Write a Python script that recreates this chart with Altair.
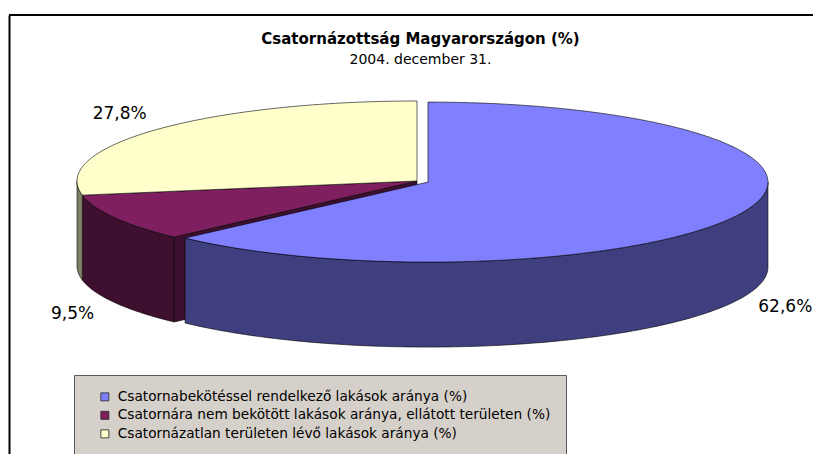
import math
import numpy as np
import pandas as pd
import altair as alt

# ---- data ----
categories = [
    "Csatornabekötéssel rendelkező lakások aránya (%)",
    "Csatornára nem bekötött lakások aránya, ellátott területen (%)",
    "Csatornázatlan területen lévő lakások aránya (%)",
]
values = [62.6, 9.5, 27.8]
explode = [0.035, 0.0, 0.0]

# ---- styles ----
top_colors = ["#8080ff", "#7f1f5f", "#ffffcc"]
wall_colors = ["#3f3f7f", "#3f0f2f", "#808066"]

# ---- layout (pixels on the page) ----
VIEW_X0, VIEW_Y0 = 9, 15
W, H = 804, 439
CX_PX, CY_PX = 417, 181
RX_PX, RY_PX = 340, 80
DEPTH = 85 / RY_PX  # wall height in y units
LABEL_RX, LABEL_RY = 1.14, 1.30

xdom = [-(CX_PX - VIEW_X0) / RX_PX, (VIEW_X0 + W - CX_PX) / RX_PX]
ydom = [-(VIEW_Y0 + H - CY_PX) / RY_PX, (CY_PX - VIEW_Y0) / RY_PX]


def rim(a):
    r = math.radians(a)
    return math.sin(r), math.cos(r)


def arc(a1, a2):
    n = max(2, int(math.ceil(abs(a2 - a1))) + 1)
    return np.linspace(a1, a2, n)


total = sum(values)
top_rows, wall_rows, face_rows, label_rows = [], [], [], []
start = 0.0
bounds = []
for k, v in enumerate(values):
    a1 = start
    a2 = start + v / total * 360.0
    bounds.append((a1, a2))
    start = a2

for k, (cat, val) in enumerate(zip(categories, values)):
    a1, a2 = bounds[k]
    mid = (a1 + a2) / 2
    su, sv = rim(mid)
    du, dv = explode[k] * su, explode[k] * sv

    # top face
    pts = [(0.0, 0.0)] + [rim(a) for a in arc(a1, a2)] + [(0.0, 0.0)]
    for i, (u, w) in enumerate(pts):
        top_rows.append({"poly": f"top{k}", "cat": cat, "i": i, "u": u + du, "v": w + dv})

    # front wall (visible part between 90 and 270 degrees)
    lo, hi = max(a1, 90.0), min(a2, 270.0)
    if hi > lo:
        upper = [rim(a) for a in arc(lo, hi)]
        lower = [(u, w - DEPTH) for (u, w) in reversed(upper)]
        pts = upper + lower + [upper[0]]
        for i, (u, w) in enumerate(pts):
            wall_rows.append({"poly": f"wall{k}", "cat": cat, "i": i, "u": u + du, "v": w + dv})

    # radial cut faces that show next to an exploded neighbour
    prev_k, next_k = (k - 1) % len(values), (k + 1) % len(values)
    faces = []
    if explode[prev_k] > 0 and explode[k] == 0 and math.sin(math.radians(a1)) < -1e-6:
        faces.append(a1)
    if explode[next_k] > 0 and explode[k] == 0 and math.sin(math.radians(a2)) > 1e-6:
        faces.append(a2)
    for j, a in enumerate(faces):
        ru, rv = rim(a)
        pts = [(0.0, 0.0), (ru, rv), (ru, rv - DEPTH), (0.0, -DEPTH), (0.0, 0.0)]
        for i, (u, w) in enumerate(pts):
            face_rows.append({"poly": f"face{k}_{j}", "cat": cat, "i": i, "u": u + du, "v": w + dv})

    # percentage label
    lu = LABEL_RX * su + du
    lv = LABEL_RY * sv + dv - (DEPTH if sv < 0 else 0.0)
    label_rows.append({"cat": cat, "u": lu, "v": lv,
                       "label": f"{val:.1f}".replace(".", ",") + "%"})

top_df = pd.DataFrame(top_rows)
wall_df = pd.DataFrame(wall_rows)
face_df = pd.DataFrame(face_rows)
label_df = pd.DataFrame(label_rows)

X = alt.X("u:Q", scale=alt.Scale(domain=xdom, nice=False, zero=False),
          axis=alt.Axis(orient="top", domain=False), title=None)
Y = alt.Y("v:Q", scale=alt.Scale(domain=ydom, nice=False, zero=False),
          axis=alt.Axis(orient="left"), title=None)

wall_scale = alt.Scale(domain=categories, range=wall_colors)

# top edge of the chart frame
frame_top = alt.Chart(pd.DataFrame({"edge": ["top"]})).mark_rule(
    color="#000000", strokeWidth=2
).encode(x=alt.value(0), x2=alt.value(W), y=alt.value(0))

faces = alt.Chart(face_df).mark_line(stroke="#000000", strokeWidth=0.6, strokeJoin="round").encode(
    x=X, y=Y, order=alt.Order("i:Q"), detail="poly:N",
    fill=alt.Fill("cat:N", scale=wall_scale, legend=None),
)

walls = alt.Chart(wall_df).mark_line(stroke="#000000", strokeWidth=0.6, strokeJoin="round").encode(
    x=X, y=Y, order=alt.Order("i:Q"), detail="poly:N",
    fill=alt.Fill("cat:N", scale=wall_scale, legend=None),
)

tops = alt.Chart(top_df).mark_line(stroke="#000000", strokeWidth=0.6, strokeJoin="round").encode(
    x=X, y=Y, order=alt.Order("i:Q"), detail="poly:N",
    fill=alt.Fill(
        "cat:N",
        scale=alt.Scale(domain=categories, range=top_colors),
        legend=alt.Legend(
            orient="none", legendX=65, legendY=360, title=None,
            fillColor="#d6d0ca", strokeColor="#5a5a5a", padding=15,
            symbolType="square", symbolSize=64, symbolStrokeColor="#222222",
            symbolStrokeWidth=0.8, symbolOffset=9,
            labelFont="DejaVu Sans", labelFontSize=13.7, labelColor="#000000",
            rowPadding=3.5, labelOffset=6, labelLimit=700,
        ),
    ),
)

labels = alt.Chart(label_df).mark_text(
    font="DejaVu Sans", fontSize=17, color="#000000", align="center", baseline="middle"
).encode(x=X, y=Y, text="label:N")

chart = (
    alt.layer(frame_top, faces, walls, tops, labels)
    .resolve_scale(fill="independent")
    .properties(
        width=W,
        height=H,
        padding={"left": 1, "top": 7, "right": 0, "bottom": 0},
        autosize=alt.AutoSizeParams(type="none"),
        background="#ffffff",
        title=alt.TitleParams(
            text="Csatornázottság Magyarországon (%)",
            subtitle="2004. december 31.",
            font="DejaVu Sans", fontSize=15, fontWeight="bold", color="#000000",
            subtitleFont="DejaVu Sans", subtitleFontSize=14, subtitleColor="#000000",
            subtitlePadding=6, anchor="middle", frame="group", dx=9.5, offset=-53,
        ),
    )
    .configure_view(stroke=None)
    .configure_axis(domainColor="#000000", domainWidth=2, ticks=False, labels=False, grid=False)
)

chart.save("out.html", embed_options={"renderer": "svg", "actions": False})
